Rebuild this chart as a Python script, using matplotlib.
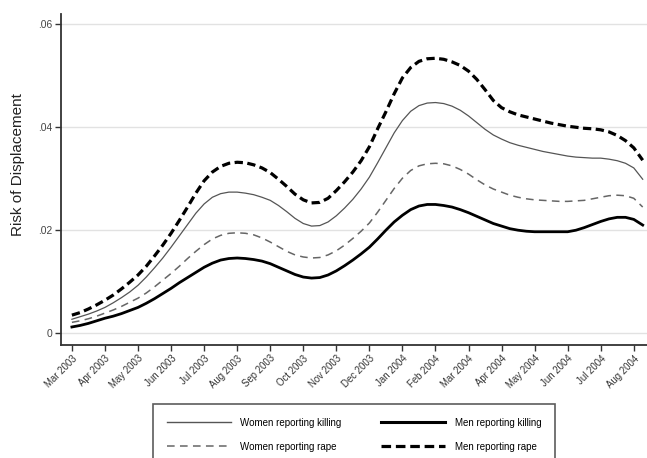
import matplotlib
matplotlib.use("Agg")
import matplotlib.pyplot as plt
from matplotlib.lines import Line2D
import numpy as np

plt.rcParams['font.family'] = ['Liberation Sans', 'DejaVu Sans']

# months since Mar 2003, read every quarter month
meses = list(np.arange(0, 17.01, 0.25)) + [17.27]

mulheres_morte = [.0027, .0032, .0037, .0043, .0050, .0059, .0069, .0080,
                  .0093, .0109, .0127, .0146, .0167, .0189, .0211, .0233,
                  .0251, .0264, .0271, .0274, .0274, .0272, .0269, .0264,
                  .0258, .0248, .0236, .0223, .0213, .0208, .0209, .0216,
                  .0228, .0243, .0260, .0280, .0303, .0331, .0360, .0389,
                  .0413, .0431, .0442, .0447, .0448, .0446, .0441, .0433,
                  .0422, .0409, .0396, .0385, .0377, .0370, .0365, .0361,
                  .0357, .0353, .0350, .0347, .0344, .0342, .0341, .0340,
                  .0340, .0338, .0335, .0330, .0321, .0299]
mulheres_violacao = [.0021, .0024, .0028, .0033, .0039, .0045, .0052, .0060,
                     .0068, .0078, .0090, .0103, .0116, .0130, .0145, .0159,
                     .0172, .0183, .0190, .0194, .0195, .0194, .0191, .0185,
                     .0177, .0168, .0159, .0152, .0148, .0146, .0147, .0152,
                     .0160, .0171, .0184, .0198, .0214, .0235, .0258, .0281,
                     .0301, .0316, .0325, .0329, .0330, .0329, .0325, .0318,
                     .0309, .0298, .0288, .0280, .0274, .0268, .0264, .0261,
                     .0259, .0258, .0257, .0256, .0256, .0257, .0258, .0261,
                     .0264, .0267, .0268, .0267, .0262, .0245]
homens_morte = [.0012, .0015, .0019, .0024, .0029, .0033, .0038, .0044,
                .0050, .0058, .0067, .0077, .0087, .0098, .0108, .0118,
                .0128, .0136, .0142, .0145, .0146, .0145, .0143, .0140,
                .0135, .0128, .0121, .0114, .0109, .0107, .0108, .0113,
                .0121, .0131, .0142, .0154, .0167, .0183, .0200, .0216,
                .0229, .0240, .0247, .0250, .0250, .0248, .0245, .0240,
                .0234, .0227, .0220, .0213, .0208, .0203, .0200, .0198,
                .0197, .0197, .0197, .0197, .0197, .0200, .0205, .0211,
                .0217, .0222, .0225, .0225, .0221, .0210]
homens_violacao = [.0035, .0040, .0047, .0055, .0064, .0074, .0086, .0099,
                   .0113, .0130, .0150, .0171, .0194, .0219, .0245, .0272,
                   .0296, .0313, .0324, .0330, .0332, .0331, .0327, .0321,
                   .0312, .0299, .0285, .0270, .0259, .0253, .0254, .0262,
                   .0277, .0294, .0313, .0335, .0362, .0397, .0430, .0465,
                   .0496, .0516, .0528, .0533, .0534, .0532, .0527, .0520,
                   .0509, .0493, .0473, .0452, .0438, .0430, .0424, .0420,
                   .0416, .0412, .0408, .0405, .0402, .0400, .0398, .0397,
                   .0395, .0391, .0384, .0374, .0360, .0336]

rotulos = ['Mar 2003', 'Apr 2003', 'May 2003', 'Jun 2003', 'Jul 2003', 'Aug 2003',
           'Sep 2003', 'Oct 2003', 'Nov 2003', 'Dec 2003', 'Jan 2004', 'Feb 2004',
           'Mar 2004', 'Apr 2004', 'May 2004', 'Jun 2004', 'Jul 2004', 'Aug 2004']

fig = plt.figure(figsize=(6.47, 4.58), dpi=100)
ax = fig.add_axes([61/647, 1 - 345/458, 586/647, 331/458])

for y in [0, 0.02, 0.04, 0.06]:
    ax.axhline(y, color='#e2e2e2', lw=1, zorder=0)

ax.plot(meses, mulheres_morte, color='#555555', lw=0.9)
ax.plot(meses, mulheres_violacao, color='#666666', lw=1.1, dashes=(5, 3.5))
ax.plot(meses, homens_morte, color='black', lw=2.0)
ax.plot(meses, homens_violacao, color='black', lw=2.3, dashes=(2.6, 1.4))

ax.set_xlim(-0.33, 17.4)
ax.set_ylim(-0.0023, 0.062)
ax.set_xticks(range(len(rotulos)))
ax.set_xticklabels(rotulos, rotation=45, ha='right', rotation_mode='anchor',
                   fontsize=6.9, color='#333333')
ax.set_yticks([0, 0.02, 0.04, 0.06])
ax.set_yticklabels(['0', '.02', '.04', '.06'], fontsize=7.4, color='#444444')
ax.tick_params(axis='both', length=4, width=1, color='#333333', pad=2)

for lado in ['top', 'right']:
    ax.spines[lado].set_visible(False)
for lado in ['left', 'bottom']:
    ax.spines[lado].set_color('#333333')
    ax.spines[lado].set_linewidth(1.3)

ax.set_ylabel('Risk of Displacement', fontsize=11, color='#222222')
ax.yaxis.set_label_coords(-0.061, 0.544)

handles = [Line2D([], [], color='#555555', lw=1.0),
           Line2D([], [], color='#666666', lw=1.1, dashes=(5, 3.5)),
           Line2D([], [], color='black', lw=2.2),
           Line2D([], [], color='black', lw=2.3, dashes=(3, 1.5))]
nomes = ['Women reporting killing', 'Women reporting rape',
         'Men reporting killing', 'Men reporting rape']
leg = fig.legend(handles, nomes, ncol=2, loc='upper left',
                 bbox_to_anchor=(153/647, 1 - 404/458), fontsize=7,
                 frameon=True, fancybox=False, handlelength=6.6,
                 handletextpad=1.0, columnspacing=4.0, labelspacing=1.45,
                 borderpad=1.4, borderaxespad=0)
leg.get_frame().set_edgecolor('#333333')
leg.get_frame().set_linewidth(1.2)

plt.savefig('out.png', dpi=100)
